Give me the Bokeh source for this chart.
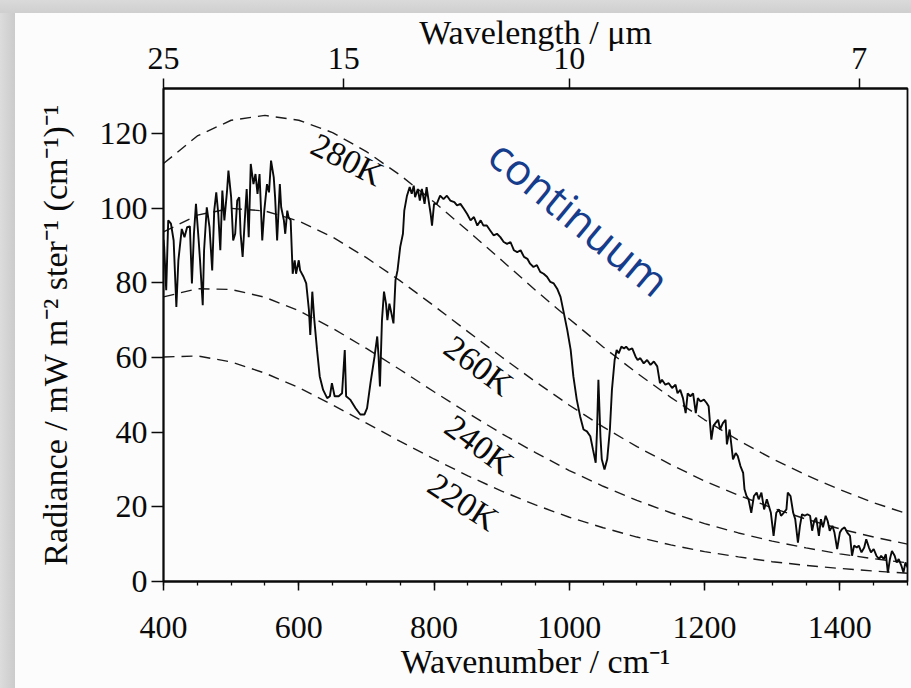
from bokeh.plotting import figure
from bokeh.layouts import column
from bokeh.models import (LinearAxis, SingleIntervalTicker, FixedTicker,
                          CustomJSTickFormatter, Label)
from bokeh.embed import file_html
from bokeh.resources import INLINE

# ---------------- data ----------------
wavenumber = [400, 401, 404, 407, 411, 415, 419, 422, 427, 431, 435, 439, 442, 445, 448, 452, 454, 458, 460,
              464, 468, 472, 475, 478, 481, 484, 487, 490, 494, 496, 500, 503, 506, 509, 512, 514, 517, 521,
              523, 526, 529, 533, 536, 539, 542, 546, 549, 553, 556, 559, 563, 565, 568, 572, 574, 578, 580,
              583, 585, 588, 591, 594, 596, 600, 602, 607, 611, 615, 617, 620, 623, 627, 631, 636, 642, 646,
              649, 653, 659, 664, 668, 670, 676, 684, 691, 697, 701, 706, 712, 716, 718, 720, 723, 726, 729,
              731, 734, 737, 740, 743, 746, 750, 754, 756, 760, 764, 767, 770, 772, 776, 779, 782, 786, 789,
              792, 795, 797, 800, 804, 809, 814, 819, 824, 830, 834, 839, 844, 849, 854, 859, 864, 869, 873,
              878, 883, 888, 893, 898, 903, 908, 913, 918, 923, 928, 933, 938, 942, 947, 952, 957, 962, 967,
              972, 977, 982, 987, 992, 997, 1002, 1006, 1011, 1016, 1021, 1026, 1031, 1035, 1039, 1041, 1043,
              1046, 1048, 1052, 1056, 1060, 1063, 1067, 1070, 1073, 1077, 1081, 1084, 1088, 1093, 1098, 1101,
              1105, 1110, 1115, 1120, 1125, 1130, 1134, 1137, 1142, 1147, 1152, 1157, 1160, 1164, 1168, 1172,
              1175, 1179, 1183, 1187, 1190, 1194, 1199, 1203, 1206, 1210, 1213, 1216, 1220, 1223, 1227, 1231,
              1233, 1237, 1242, 1246, 1249, 1253, 1257, 1259, 1262, 1265, 1269, 1273, 1277, 1280, 1284, 1288,
              1292, 1295, 1298, 1302, 1306, 1310, 1313, 1317, 1321, 1323, 1327, 1331, 1334, 1338, 1341, 1344,
              1348, 1352, 1356, 1359, 1362, 1365, 1369, 1372, 1375, 1379, 1382, 1385, 1389, 1392, 1396, 1400,
              1403, 1407, 1411, 1415, 1418, 1421, 1425, 1428, 1432, 1436, 1439, 1443, 1446, 1450, 1454, 1458,
              1461, 1465, 1468, 1471, 1474, 1477, 1481, 1484, 1487, 1491, 1494, 1497, 1500]
radiance = [91.5, 89.6, 78.0, 96.7, 95.8, 91.3, 73.5, 86.0, 94.4, 92.2, 94.9, 95.1, 79.8, 93.1, 101.1, 91.3,
            86.0, 74.0, 88.7, 100.2, 94.9, 83.3, 99.3, 104.2, 98.4, 88.7, 104.7, 96.7, 104.7, 110.0, 102.9,
            91.3, 93.1, 102.0, 102.9, 93.1, 86.9, 99.3, 105.1, 92.2, 111.8, 106.4, 109.1, 103.8, 109.1, 91.3,
            99.3, 106.4, 104.2, 112.7, 108.2, 102.9, 91.3, 106.4, 100.2, 96.7, 93.1, 99.3, 97.5, 96.7, 82.4,
            86.0, 82.4, 86.0, 83.3, 81.6, 79.8, 72.7, 66.0, 77.6, 70.0, 62.0, 54.9, 51.3, 49.1, 49.6, 53.1,
            49.6, 49.6, 50.4, 62.0, 49.6, 48.7, 46.4, 44.7, 44.7, 46.4, 53.1, 60.2, 65.6, 60.2, 52.2, 70.0,
            77.6, 74.4, 70.0, 74.4, 71.8, 69.1, 80.7, 83.3, 89.6, 93.1, 99.3, 103.3, 105.6, 103.8, 106.0,
            102.9, 105.1, 102.0, 105.1, 101.1, 105.6, 102.0, 98.4, 95.3, 101.1, 101.1, 103.3, 102.4, 103.3,
            102.0, 101.6, 100.7, 101.1, 99.8, 98.4, 96.7, 97.6, 95.3, 96.7, 95.3, 95.3, 94.0, 92.7, 93.1,
            92.2, 90.9, 90.4, 90.9, 88.7, 88.2, 88.7, 86.9, 86.4, 85.1, 84.2, 84.7, 82.9, 82.4, 81.6, 80.2,
            79.8, 78.4, 76.2, 71.8, 67.3, 62.0, 54.9, 48.7, 44.2, 40.7, 40.2, 38.9, 35.3, 31.8, 40.7, 54.0,
            38.9, 32.7, 30.0, 32.7, 40.7, 51.3, 59.3, 62.0, 61.1, 62.9, 62.4, 62.9, 62.0, 62.4, 60.2, 59.3,
            59.8, 58.4, 59.3, 58.0, 58.9, 57.6, 53.1, 54.0, 52.7, 53.1, 51.8, 52.7, 50.4, 51.3, 49.1, 45.1,
            50.4, 49.6, 50.4, 45.1, 49.1, 48.2, 48.7, 47.8, 46.9, 38.0, 41.6, 42.4, 43.3, 40.7, 42.4, 43.3,
            36.7, 40.7, 32.7, 34.4, 33.6, 30.9, 29.1, 24.7, 22.9, 22.0, 18.4, 22.9, 23.8, 22.0, 23.8, 19.3,
            22.0, 20.2, 18.4, 12.2, 18.4, 19.3, 17.6, 18.4, 19.3, 23.8, 22.9, 18.4, 16.7, 10.4, 14.9, 18.0,
            17.6, 18.0, 17.6, 13.6, 16.2, 17.1, 12.2, 16.7, 14.5, 17.6, 16.2, 13.6, 14.9, 13.1, 8.7, 13.1,
            14.0, 14.5, 13.1, 12.2, 6.9, 9.6, 9.1, 9.6, 7.8, 9.1, 11.3, 9.1, 7.8, 8.7, 6.9, 6.0,
            6.9, 6.0, 7.3, 2.4, 6.0, 8.2, 6.9, 5.1, 6.0, 4.2, 2.4, 5.1, 3.8]

# blackbody reference curves
bb_wavenumber = [400, 450, 500, 550, 600, 650, 700, 750, 800, 850, 900, 950, 1000,
                 1050, 1100, 1150, 1200, 1250, 1300, 1350, 1400, 1450, 1500]
bb_280 = [111.9, 119.3, 123.5, 124.8, 123.5, 120.2, 115.1, 108.8, 101.6, 93.9, 86.0, 78.0, 70.3,
          62.8, 55.8, 49.3, 43.3, 37.8, 32.9, 28.5, 24.6, 21.1, 18.1]
bb_260 = [93.6, 98.1, 99.9, 99.2, 96.5, 92.2, 86.7, 80.5, 73.8, 66.9, 60.1, 53.5, 47.2,
          41.4, 36.1, 31.3, 26.9, 23.1, 19.7, 16.7, 14.1, 11.9, 10.0]
bb_240 = [76.2, 78.4, 78.2, 76.1, 72.5, 67.8, 62.4, 56.7, 50.8, 45.1, 39.6, 34.5, 29.7,
          25.5, 21.7, 18.4, 15.5, 13.0, 10.8, 9.0, 7.4, 6.1, 5.0]
bb_220 = [60.1, 60.4, 58.8, 55.8, 51.9, 47.3, 42.4, 37.5, 32.8, 28.3, 24.2, 20.5, 17.2,
          14.4, 11.9, 9.8, 8.0, 6.6, 5.3, 4.3, 3.5, 2.8, 2.2]
bb_names = ["280K", "260K", "240K", "220K"]

wavelength_ticks = [25, 15, 10, 7]   # µm, top axis

# ---------------- figure ----------------
SERIF = "Liberation Serif"
INK = "#0a0a0a"

p = figure(width=911, height=688, x_range=(400, 1500), y_range=(0, 132),
           output_backend="svg", toolbar_location=None,
           min_border_left=163, min_border_right=4, min_border_top=88, min_border_bottom=107,
           background_fill_color="#fcfcfc", border_fill_alpha=0)
p.xgrid.visible = False
p.ygrid.visible = False
p.outline_line_color = INK
p.outline_line_width = 1.8

# dashed blackbody curves
for ys in [bb_280, bb_260, bb_240, bb_220]:
    p.line(bb_wavenumber, ys, line_color="#1a1a1a", line_width=1.4, line_dash="11 7")

# measured spectrum
p.line(wavenumber, radiance, line_color=INK, line_width=1.9)

# curve labels
label_pos = [(672, 113.0, -0.47), (866, 57.8, -0.64), (867, 36.6, -0.64), (843, 21.3, -0.58)]
for name, (x, y, a) in zip(bb_names, label_pos):
    p.add_layout(Label(x=x, y=y, text=name, angle=a, text_align="center", text_baseline="middle",
                       text_font=SERIF, text_font_size="34px", text_color=INK))

p.add_layout(Label(x=1015, y=97.5, text="continuum", angle=-0.69, text_align="center",
                   text_baseline="middle", text_font="Open Sans", text_font_size="43px",
                   text_color="#163c8c"))

# bottom axis
xa = p.xaxis[0]
xa.ticker = SingleIntervalTicker(interval=200, num_minor_ticks=4)
xa.axis_label = "Wavenumber / cm⁻¹"
# left axis
ya = p.yaxis[0]
ya.ticker = SingleIntervalTicker(interval=20, num_minor_ticks=0)
ya.axis_label = "Radiance / mW m⁻² ster⁻¹ (cm⁻¹)⁻¹"

# top axis (wavelength)
top = LinearAxis(ticker=FixedTicker(ticks=[10000.0 / w for w in wavelength_ticks], minor_ticks=[]),
                 formatter=CustomJSTickFormatter(code="return (10000/tick).toFixed(0);"),
                 axis_label="Wavelength / μm")
p.add_layout(top, "above")

for ax in [xa, ya, top]:
    ax.axis_line_color = INK
    ax.axis_line_width = 1.8
    ax.major_tick_line_color = INK
    ax.major_tick_line_width = 1.5
    ax.minor_tick_line_color = INK
    ax.minor_tick_line_width = 1.3
    ax.major_tick_in = 0
    ax.minor_tick_in = 0
    ax.major_label_text_font = SERIF
    ax.major_label_text_font_size = "32px"
    ax.major_label_text_color = INK
    ax.axis_label_text_font = SERIF
    ax.axis_label_text_font_size = "34px"
    ax.axis_label_text_font_style = "normal"
    ax.axis_label_text_color = INK

xa.major_tick_out = 9
xa.minor_tick_out = 4
xa.major_label_standoff = 26
xa.axis_label_standoff = 2
ya.major_tick_out = 12
ya.minor_tick_out = 0
ya.major_label_standoff = 4
ya.axis_label_standoff = 23
top.major_tick_out = 10
top.minor_tick_out = 0
top.major_label_standoff = 10
top.axis_label_standoff = -6

frame_bg = ("linear-gradient(#dadada, #cfcfcf) 0 0 / 100% 13px no-repeat, "
            "linear-gradient(to right, #dcdcdc, #cbcbcb) 0 0 / 15px 100% no-repeat, #fcfcfc")
layout = column(p, width=911, height=688, styles={"background": frame_bg})

open("out.html", "w").write(file_html(layout, INLINE))
